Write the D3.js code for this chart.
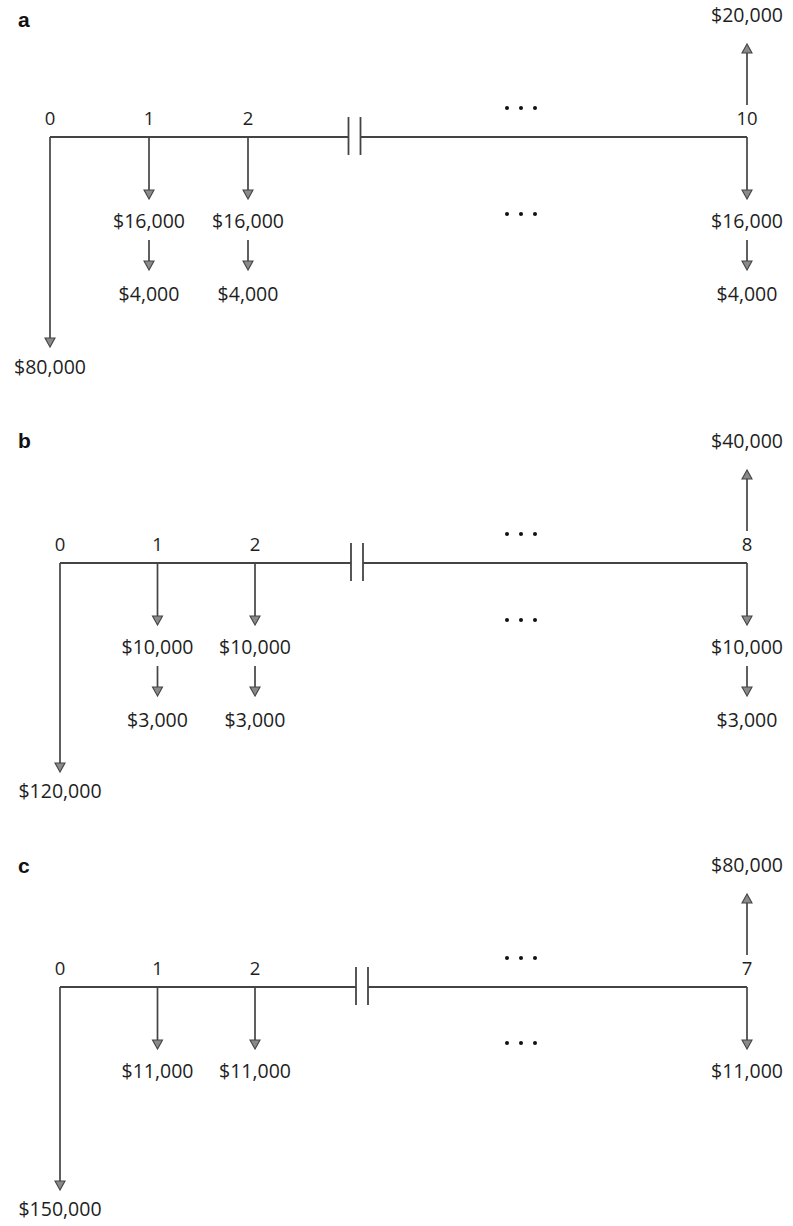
<!DOCTYPE html>
<html>
<head>
<meta charset="utf-8">
<script src="https://cdn.jsdelivr.net/npm/d3@7"></script>
<style>
  html, body { margin: 0; padding: 0; background: #fff; }
  svg { display: block; }
</style>
</head>
<body>
<script>
// ---- data ----
const panelLetters   = ["a", "b", "c"];
const finalPeriods   = [10, 8, 7];
const initialCosts   = [80000, 120000, 150000];
const annualCosts    = [16000, 10000, 11000];
const secondCosts    = [4000, 3000, null];
const salvageValues  = [20000, 40000, 80000];
const shownPeriods   = [0, 1, 2];

// ---- layout ----
const W = 793, H = 1226;
const lineY    = [137, 563, 987];
const letterY  = [19, 440, 865];
const startX   = [50, 60, 60];
const secondX  = [248, 255, 255];
const breakX   = [354.5, 357, 362];
const endX     = 747;
const dots2Off = [77, 57, 56];
const leftTip  = [210, 209, 203];
const leftLab  = [230, 228, 222];

const lineColor = "#444";
const textColor = "#1e1e1e";
const numFont = "'Open Sans', 'Noto Sans', sans-serif";
const fmt = d => "$" + d3.format(",")(d);

const svg = d3.select("body").append("svg")
  .attr("width", W).attr("height", H);

svg.append("defs").append("clipPath").attr("id", "clip")
  .append("rect").attr("x", 0).attr("y", 0).attr("width", 783).attr("height", H);

const root = svg.append("g").attr("clip-path", "url(#clip)");

function arrowHead(g, x, tipY, dir) {
  const w = 5, h = 9;
  g.append("path")
    .attr("d", `M${x},${tipY} L${x - w},${tipY - dir * h} L${x + w},${tipY - dir * h} Z`)
    .attr("fill", "#8a8a8a").attr("stroke", lineColor).attr("stroke-width", 1.1);
}

function arrow(g, x, y1, y2) {
  const dir = y2 > y1 ? 1 : -1;
  g.append("line")
    .attr("x1", x).attr("x2", x)
    .attr("y1", y1).attr("y2", y2 - dir * 8)
    .attr("stroke", lineColor).attr("stroke-width", 1.7);
  arrowHead(g, x, y2, dir);
}

function label(g, x, cy, txt, size) {
  g.append("text")
    .attr("x", x).attr("y", cy)
    .attr("dy", "0.36em")
    .attr("text-anchor", "middle")
    .attr("font-family", numFont)
    .attr("font-size", size || 19.5)
    .attr("fill", textColor)
    .text(txt);
}

function dots(g, cx, cy) {
  g.selectAll(null).data([-14, 0, 14]).enter().append("circle")
    .attr("cx", d => cx + d).attr("cy", cy).attr("r", 2)
    .attr("fill", "#111");
}

panelLetters.forEach((letter, i) => {
  const g = root.append("g");
  const y0 = lineY[i];
  const x = d3.scaleLinear().domain([0, 2]).range([startX[i], secondX[i]]);
  const xEnd = endX;

  g.append("text")
    .attr("x", 18).attr("y", letterY[i]).attr("dy", "0.36em")
    .attr("font-family", "'Liberation Sans', Arial, sans-serif")
    .attr("font-weight", "bold").attr("font-size", 21)
    .attr("fill", "#111").text(letter);

  const gap = 6;
  g.append("line")
    .attr("x1", x(0)).attr("x2", breakX[i] - gap)
    .attr("y1", y0).attr("y2", y0)
    .attr("stroke", lineColor).attr("stroke-width", 1.8);
  g.append("line")
    .attr("x1", breakX[i] + gap).attr("x2", xEnd)
    .attr("y1", y0).attr("y2", y0)
    .attr("stroke", lineColor).attr("stroke-width", 1.8);
  [-gap, gap].forEach(dx => {
    g.append("line")
      .attr("x1", breakX[i] + dx).attr("x2", breakX[i] + dx)
      .attr("y1", y0 - 20).attr("y2", y0 + 18)
      .attr("stroke", lineColor).attr("stroke-width", 1.8);
  });

  shownPeriods.forEach(p => label(g, x(p), y0 - 19, String(p), 18.5));
  label(g, xEnd, y0 - 19, String(finalPeriods[i]), 18.5);

  dots(g, 521, y0 - 29);
  dots(g, 521, y0 + dots2Off[i]);

  arrow(g, x(0), y0, y0 + leftTip[i]);
  label(g, x(0), y0 + leftLab[i], fmt(initialCosts[i]));

  const costXs = [x(1), x(2), xEnd];
  costXs.forEach(cx => {
    arrow(g, cx, y0, y0 + 62);
    label(g, cx, y0 + 84, fmt(annualCosts[i]));
    if (secondCosts[i] != null) {
      arrow(g, cx, y0 + 103, y0 + 133);
      label(g, cx, y0 + 157, fmt(secondCosts[i]));
    }
  });

  arrow(g, xEnd, y0 - 32, y0 - 93);
  label(g, xEnd, y0 - 122, fmt(salvageValues[i]));
});
</script>
</body>
</html>
